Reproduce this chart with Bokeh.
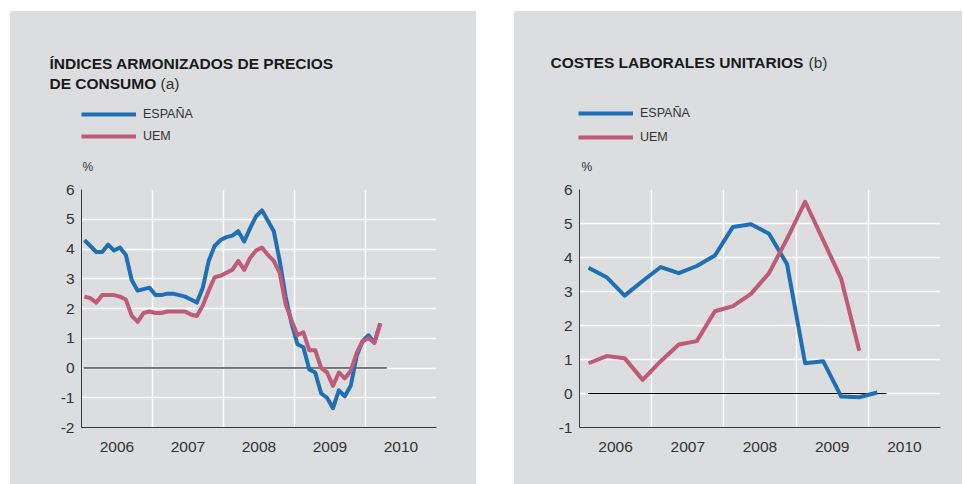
import pandas as pd
from bokeh.plotting import figure
from bokeh.models import Range1d, FixedTicker, Label, Legend, LegendItem, Spacer
from bokeh.layouts import row, column
from bokeh.embed import file_html
from bokeh.resources import INLINE

# ---------------- data ----------------
hicp_months = pd.date_range("2006-01-01", "2010-03-01", freq="MS")
hicp_espana = [4.3, 4.1, 3.9, 3.9, 4.15, 3.95, 4.05, 3.8, 2.95, 2.6, 2.65, 2.7,      # 2006
               2.45, 2.45, 2.5, 2.5, 2.45, 2.4, 2.3, 2.2, 2.7, 3.6, 4.1, 4.3,        # 2007
               4.4, 4.45, 4.6, 4.25, 4.7, 5.1, 5.3, 4.95, 4.6, 3.6, 2.4, 1.5,        # 2008
               0.8, 0.7, -0.05, -0.15, -0.85, -1.0, -1.35, -0.75, -0.95, -0.6, 0.4, 0.9,  # 2009
               1.1, 0.85, 1.5]                                                       # 2010
hicp_uem = [2.4, 2.35, 2.2, 2.45, 2.45, 2.45, 2.4, 2.3, 1.75, 1.55, 1.85, 1.9,       # 2006
            1.85, 1.85, 1.9, 1.9, 1.9, 1.9, 1.8, 1.75, 2.1, 2.6, 3.05, 3.1,          # 2007
            3.2, 3.3, 3.6, 3.3, 3.7, 3.95, 4.05, 3.8, 3.6, 3.2, 2.15, 1.6,           # 2008
            1.1, 1.2, 0.6, 0.6, 0.0, -0.15, -0.6, -0.15, -0.35, -0.1, 0.5, 0.9,      # 2009
            1.0, 0.85, 1.5]                                                          # 2010

clu_quarters = pd.period_range("2006Q1", "2010Q1", freq="Q")
clu_espana = [3.7, 3.42, 2.88, 3.31, 3.72, 3.54, 3.75, 4.06,
              4.9, 4.98, 4.7, 3.8, 0.89, 0.95, -0.09, -0.11, 0.03]
clu_uem = [0.89, 1.1, 1.04, 0.4, 0.95, 1.44, 1.54, 2.42,
           2.57, 2.93, 3.54, 4.55, 5.64, 4.51, 3.37, 1.26]

year_labels = ["2006", "2007", "2008", "2009", "2010"]
y_ticks_hicp = [-2, -1, 0, 1, 2, 3, 4, 5, 6]
y_labels_hicp = ["-2", "-1", "0", "1", "2", "3", "4", "5", "6"]
y_ticks_clu = [-1, 0, 1, 2, 3, 4, 5, 6]
y_labels_clu = ["-1", "0", "1", "2", "3", "4", "5", "6"]
series_labels = ["ESPAÑA", "UEM"]

# ---------------- styling ----------------
BG = "#dcdddf"
BLUE = "#1f6fb6"
RED = "#c05a76"
TXT = "#333333"
FONT = "Liberation Sans"
HH = 165      # header height
CH = 308      # chart figure height
CT = 13       # chart border top
FH = 238      # frame height
GRAY_STYLE = {"background-color": BG}
WHITE_STYLE = {"background-color": "white"}


def month_x(d):
    return d.year + (d.month - 0.5) / 12.0


def quarter_x(q):
    return q.year + (q.quarter - 0.5) / 4.0


def make_header(width, title, tx, ty, note, nx, leg_loc, leg_sp, pct, series):
    h = figure(width=width, height=HH, x_range=Range1d(0, width),
               y_range=Range1d(HH, 0), x_axis_type=None, y_axis_type=None,
               toolbar_location=None, output_backend="svg",
               min_border_left=0, min_border_right=0, min_border_top=0,
               min_border_bottom=0, min_border=0,
               background_fill_color=BG, border_fill_color=BG,
               outline_line_color=None, styles=GRAY_STYLE)
    for i, line in enumerate(title):
        h.add_layout(Label(x=tx, y=ty + 20 * i, text=line,
                           text_font=FONT, text_font_size="15.5px",
                           text_font_style="bold", text_color="#1a1a1a",
                           text_baseline="alphabetic", text_align="left"))
    h.add_layout(Label(x=nx, y=ty + 20 * (len(title) - 1), text=note,
                       text_font=FONT, text_font_size="15.5px",
                       text_color="#333333", text_baseline="alphabetic",
                       text_align="left"))
    h.add_layout(Label(x=pct[0], y=pct[1], text="%",
                       text_font=FONT, text_font_size="12px", text_color=TXT,
                       text_baseline="middle", text_align="left"))
    # legend-only renderers (hidden in the header, shown as legend samples)
    (xe, ye), (xu, yu) = series
    r_es = h.line(xe, ye, line_color=BLUE, line_width=4, visible=False)
    r_ue = h.line(xu, yu, line_color=RED, line_width=4, visible=False)
    legend = Legend(items=[LegendItem(label=series_labels[0], renderers=[r_es]),
                           LegendItem(label=series_labels[1], renderers=[r_ue])],
                    location=leg_loc, orientation="vertical",
                    glyph_width=55, glyph_height=20, label_height=20,
                    spacing=leg_sp, padding=0, margin=0, label_standoff=7,
                    label_text_font=FONT, label_text_font_size="12.5px",
                    label_text_color=TXT, background_fill_alpha=0,
                    border_line_alpha=0)
    h.add_layout(legend)
    return h


def make_chart(width, left, fw, yticks, ylabels, zero_from, zero_to,
               xs_es, ys_es, xs_ue, ys_ue):
    right = width - left - fw
    ymin, ymax = yticks[0], yticks[-1]
    p = figure(width=width, height=CH, x_range=Range1d(2006, 2011),
               y_range=Range1d(ymin, ymax), output_backend="svg",
               toolbar_location=None, min_border_left=left, min_border_right=right,
               min_border_top=CT, min_border_bottom=CH - CT - FH,
               background_fill_color=BG, border_fill_color=BG,
               outline_line_color=None, styles=GRAY_STYLE)
    p.xgrid.ticker = FixedTicker(ticks=[2006, 2007, 2008, 2009, 2010, 2011])
    p.ygrid.ticker = FixedTicker(ticks=yticks)
    for g in (p.xgrid, p.ygrid):
        g.grid_line_color = "white"
        g.grid_line_width = 1.5
    mids = [2006.5 + i for i in range(len(year_labels))]
    p.xaxis.ticker = FixedTicker(ticks=mids)
    p.xaxis.major_label_overrides = {m: lab for m, lab in zip(mids, year_labels)}
    p.yaxis.ticker = FixedTicker(ticks=yticks)
    p.yaxis.major_label_overrides = {t: lab for t, lab in zip(yticks, ylabels)}
    for ax in (p.xaxis, p.yaxis):
        ax.major_tick_line_color = None
        ax.minor_tick_line_color = None
        ax.major_tick_out = 0
        ax.major_tick_in = 0
        ax.axis_line_color = "#3a3a3a"
        ax.axis_line_width = 1
        ax.major_label_text_font = FONT
        ax.major_label_text_font_size = "15.5px"
        ax.major_label_text_color = TXT
    p.yaxis.major_label_standoff = 7
    p.xaxis.major_label_standoff = 14

    p.line([zero_from, zero_to], [0, 0], line_color="black", line_width=1)
    p.line(xs_es, ys_es, line_color=BLUE, line_width=4, line_join="round")
    p.line(xs_ue, ys_ue, line_color=RED, line_width=4, line_join="round")
    return p


xs_h = [month_x(d) for d in hicp_months]
h1 = make_header(466, ["ÍNDICES ARMONIZADOS DE PRECIOS", "DE CONSUMO"], 39, 52,
                 "(a)", 150, (71, HH - 135), 2, (72, 155),
                 ((xs_h, hicp_espana), (xs_h, hicp_uem)))
p1 = make_chart(466, 71, 355, y_ticks_hicp, y_labels_hicp, 2006.03, 2010.3,
                xs_h, hicp_espana, xs_h, hicp_uem)

x_q = [quarter_x(q) for q in clu_quarters]
h2 = make_header(448, ["COSTES LABORALES UNITARIOS"], 36, 51,
                 "(b)", 294, (64, HH - 136), 4, (67, 155),
                 ((x_q, clu_espana), (x_q[:len(clu_uem)], clu_uem)))
p2 = make_chart(448, 65, 361, y_ticks_clu, y_labels_clu, 2006.12, 2010.25,
                x_q, clu_espana, x_q[:len(clu_uem)], clu_uem)


def gap(w):
    return Spacer(width=w, styles=WHITE_STYLE)


layout = column(Spacer(height=11, width=962, styles=WHITE_STYLE),
                row(gap(10), h1, gap(38), h2, styles=GRAY_STYLE),
                row(gap(10), p1, gap(38), p2, styles=GRAY_STYLE),
                styles=GRAY_STYLE)
open("out.html", "w").write(file_html(layout, INLINE))
